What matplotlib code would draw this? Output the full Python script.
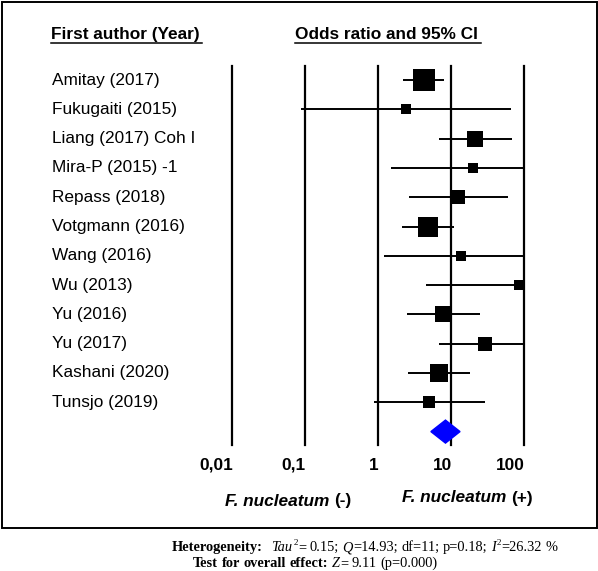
import matplotlib
matplotlib.use("Agg")
import matplotlib.pyplot as plt
import numpy as np
from matplotlib.patches import Rectangle, Polygon
from matplotlib.lines import Line2D

# ---------------- data ----------------
studies = ["Amitay (2017)", "Fukugaiti (2015)", "Liang (2017) Coh I", "Mira-P (2015) -1",
           "Repass (2018)", "Votgmann (2016)", "Wang (2016)", "Wu (2013)",
           "Yu (2016)", "Yu (2017)", "Kashani (2020)", "Tunsjo (2019)"]
odds_ratio = [4.3, 2.4, 21, 20, 12.5, 4.8, 13.7, 85, 7.8, 29, 6.9, 5.0]
ci_lower = [2.2, 0.089, 6.9, 1.5, 2.7, 2.1, 1.2, 4.5, 2.5, 6.9, 2.6, 0.89]
ci_upper = [8.0, 66, 69, 100, 60, 11, 100, 100, 25, 100, 18, 29]
weights = [18.3, 3.8, 9.9, 3.8, 7.7, 15.2, 3.6, 3.6, 9.9, 6.3, 12.5, 5.4]
pooled_or = 8.4
pooled_lower = 5.3
pooled_upper = 13.3
tick_values = [0.01, 0.1, 1, 10, 100]
tick_labels = ["0,01", "0,1", "1", "10", "100"]

W, H = 598, 571
DPI = 100
fig = plt.figure(figsize=(W / DPI, H / DPI), dpi=DPI)
renderer = fig.canvas.get_renderer()

def fx(x):
    return x / W

def fy(y):
    return 1 - y / H

SANS = 'Liberation Sans'
SERIF = 'Liberation Serif'

# outer frame
fig.patches.append(Rectangle((fx(1.5), fy(528)), fx(595.5), (528 - 2) / H,
                             transform=fig.transFigure, fill=False,
                             edgecolor='black', linewidth=1.4))

# axes region (pixel coords): x 232..524 for 0.01..100, y 66..445
x0, x1 = 232, 524
ytop, ybot = 66, 445
row0, dy = 80, 29.3
ax = fig.add_axes([fx(x0), fy(ybot), (x1 - x0) / W, (ybot - ytop) / H])
ax.set_xscale('log')
ax.set_xlim(0.01, 100)
ax.set_ylim((ybot - row0) / dy, (ytop - row0) / dy)
ax.axis('off')

for tv in tick_values:
    ax.axvline(tv, color='black', lw=1.6, zorder=1, clip_on=False)

n = len(studies)
ypos = np.arange(n)
for i in range(n):
    ax.plot([ci_lower[i], ci_upper[i]], [ypos[i], ypos[i]], color='black', lw=1.4, zorder=2,
            solid_capstyle='butt')
    side_px = 5.31 * np.sqrt(weights[i])
    side_pt = side_px * 72 / DPI
    ax.scatter([odds_ratio[i]], [ypos[i]], marker='s', s=side_pt ** 2, color='black',
               zorder=3, linewidths=0)

# pooled diamond
yd = n
hh = 11.5 / dy
diamond = Polygon([[pooled_lower, yd], [pooled_or, yd - hh], [pooled_upper, yd], [pooled_or, yd + hh]],
                  closed=True, facecolor='#0000ff', edgecolor='#0000ff', zorder=4)
ax.add_patch(diamond)

# study labels
for i, s in enumerate(studies):
    fig.text(fx(52), fy(row0 + dy * i), s, ha='left', va='center', fontsize=12.4,
             family=SANS)

# headers with underline
fig.text(fx(51), fy(39), "First author (Year)", ha='left', va='baseline', fontsize=12.4,
         fontweight='bold', family=SANS)
fig.add_artist(Line2D([fx(51), fx(202)], [fy(42.5), fy(42.5)], color='black', lw=1.1))
fig.text(fx(295), fy(39), "Odds ratio and 95% CI", ha='left', va='baseline', fontsize=12.4,
         fontweight='bold', family=SANS)
fig.add_artist(Line2D([fx(295), fx(481)], [fy(42.5), fy(42.5)], color='black', lw=1.1))

# tick labels
for tv, tl in zip(tick_values, tick_labels):
    ax.annotate(tl, xy=(tv, fy(465)), xycoords=('data', 'figure fraction'),
                xytext=(0.7, 0), textcoords='offset points', ha='right', va='center',
                fontsize=12.4, fontweight='bold', family=SANS)

# F. nucleatum labels
fig.text(fx(329), fy(501), "F. nucleatum", ha='right', va='center', fontsize=12.4,
         fontweight='bold', fontstyle='italic', family=SANS)
fig.text(fx(334), fy(501), "(-)", ha='left', va='center', fontsize=12.4,
         fontweight='bold', family=SANS)
fig.text(fx(506.5), fy(498), "F. nucleatum", ha='right', va='center', fontsize=12.4,
         fontweight='bold', fontstyle='italic', family=SANS)
fig.text(fx(511.5), fy(498), "(+)", ha='left', va='center', fontsize=12.4,
         fontweight='bold', family=SANS)


# statistics text drawn as runs of differently styled text
def draw_runs(x, y_base, runs, size):
    cur = x
    for txt, style, gap in runs:
        kw = dict(family=SERIF, fontsize=size, va='baseline', ha='left')
        yb = y_base
        if style == 'b':
            kw['fontweight'] = 'bold'
        elif style == 'i':
            kw['fontstyle'] = 'italic'
        elif style == 'sup':
            kw['fontsize'] = size * 0.62
            yb = y_base - size * 0.42 * DPI / 72
        t = fig.text(fx(cur), fy(yb), txt, **kw)
        bb = t.get_window_extent(renderer=renderer)
        cur += bb.width + gap

SZ = 10.4
sp = SZ * 0.25 * DPI / 72
het_runs = [("Heterogeneity:", 'b', 2.4 * sp), ("Tau", 'i', 0.5), ("2", 'sup', 0.3),
            ("=", 'n', sp), ("0.15;", 'n', sp), ("Q", 'i', 0.3),
            ("=14.93;", 'n', sp), ("df=11;", 'n', sp), ("p=0.18;", 'n', sp),
            ("I", 'i', 0.3), ("2", 'sup', 0.3), ("=26.32", 'n', sp), ("%", 'n', 0)]
draw_runs(172, 551, het_runs, SZ)
test_runs = [("Test", 'b', sp), ("for", 'b', sp), ("overall", 'b', sp), ("effect:", 'b', sp),
             ("Z", 'i', 0.3), ("=", 'n', sp), ("9.11", 'n', sp), ("(p=0.000)", 'n', 0)]
draw_runs(193, 567, test_runs, SZ)

fig.savefig("out.png", dpi=DPI)
